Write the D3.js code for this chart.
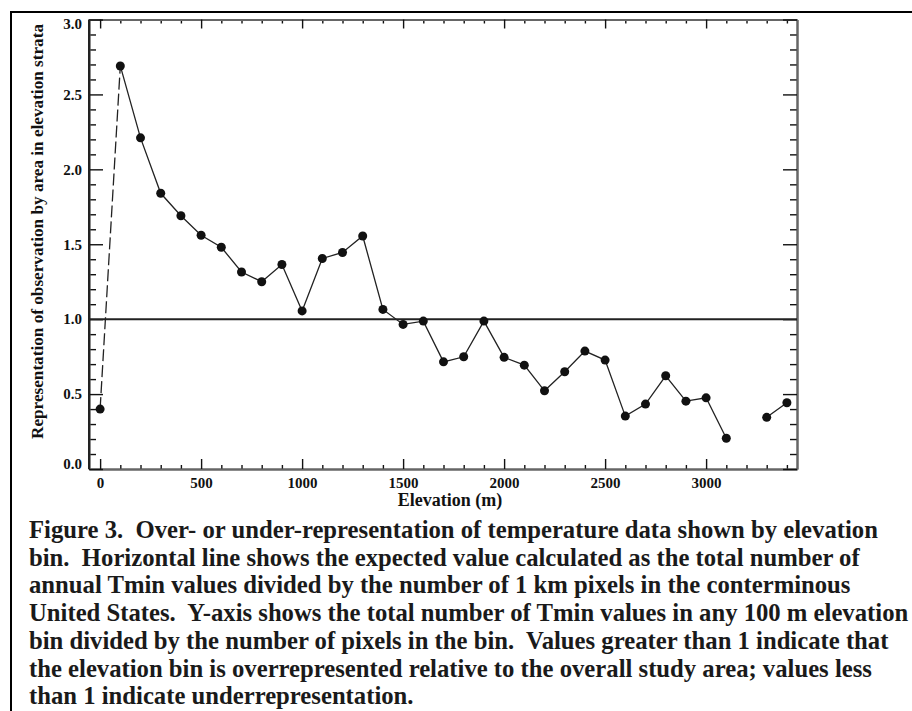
<!DOCTYPE html>
<html>
<head>
<meta charset="utf-8">
<script src="https://cdn.jsdelivr.net/npm/d3@7"></script>
<style>
  body { margin: 0; background: #fff; }
  svg { display: block; }
</style>
</head>
<body>
<svg id="chart" width="912" height="711"></svg>
<script>
// Elevation bins (m) and representation ratio; null = no data in that bin
var elevations = [0, 100, 200, 300, 400, 500, 600, 700, 800, 900, 1000, 1100, 1200, 1300, 1400, 1500, 1600,
  1700, 1800, 1900, 2000, 2100, 2200, 2300, 2400, 2500, 2600, 2700, 2800, 2900, 3000, 3100, 3200, 3300, 3400];
var representation = [0.40, 2.69, 2.21, 1.84, 1.69, 1.56, 1.48, 1.315, 1.25, 1.365, 1.055, 1.405, 1.445, 1.555,
  1.065, 0.965, 0.987, 0.715, 0.749, 0.987, 0.745, 0.693, 0.522, 0.649, 0.787, 0.727, 0.353, 0.433, 0.622,
  0.453, 0.475, 0.205, null, 0.345, 0.442];
var expectedValue = 1.0;

var xMajorTicks = [0, 500, 1000, 1500, 2000, 2500, 3000];
var xMinorTicks = [100, 200, 300, 400, 600, 700, 800, 900, 1100, 1200, 1300, 1400, 1600, 1700, 1800, 1900,
  2100, 2200, 2300, 2400, 2600, 2700, 2800, 2900, 3100, 3200, 3300, 3400];
var yMajorTicks = [0, 0.5, 1.0, 1.5, 2.0, 2.5, 3.0];
var yMinorTicks = [0.1, 0.2, 0.3, 0.4, 0.6, 0.7, 0.8, 0.9, 1.1, 1.2, 1.3, 1.4, 1.6, 1.7, 1.8, 1.9,
  2.1, 2.2, 2.3, 2.4, 2.6, 2.7, 2.8, 2.9];

var xLabel = 'Elevation (m)';
var yLabel = 'Representation of observation by area in elevation strata';
var captionLines = [
  'Figure 3.  Over- or under-representation of temperature data shown by elevation',
  'bin.  Horizontal line shows the expected value calculated as the total number of',
  'annual Tmin values divided by the number of 1 km pixels in the conterminous',
  'United States.  Y-axis shows the total number of Tmin values in any 100 m elevation',
  'bin divided by the number of pixels in the bin.  Values greater than 1 indicate that',
  'the elevation bin is overrepresented relative to the overall study area; values less',
  'than 1 indicate underrepresentation.'
];

var config = {
  plotLeft: 89,
  plotRight: 797,
  plotTop: 19.5,
  plotBottom: 469,
  font: '"Liberation Serif", "Times New Roman", serif',
  axisColor: '#666',
  markColor: '#111',
  pointRadius: 4.5,
  tickFontSize: 15,
  captionX: 29,
  captionFirstBaseline: 538,
  captionLineHeight: 27.7,
  captionFontSize: 24.7
};

var svg = d3.select('#chart');

// Outer frame (top and left edges only are visible)
svg.append('path')
  .attr('d', 'M11,711 L11,12 L912,12')
  .attr('fill', 'none')
  .attr('stroke', '#000')
  .attr('stroke-width', 2);

var x = d3.scaleLinear()
  .domain([-55, 3450])
  .range([config.plotLeft, config.plotRight]);

var y = d3.scaleLinear()
  .domain([0, 3])
  .range([config.plotBottom, config.plotTop]);

// Axes: ticks point inward, labels only on left and bottom
function styleAxis(g) {
  g.select('.domain').attr('stroke', config.axisColor).attr('stroke-width', 2);
  g.selectAll('.tick line').attr('stroke', '#111').attr('stroke-width', 1.4);
  g.selectAll('.tick text')
    .attr('font-family', config.font)
    .attr('font-weight', 'bold')
    .attr('font-size', config.tickFontSize)
    .attr('fill', '#111');
}

svg.append('g')
  .attr('transform', 'translate(0,' + config.plotBottom + ')')
  .call(d3.axisBottom(x).tickValues(xMinorTicks).tickSize(-4).tickSizeOuter(0).tickFormat(''))
  .call(styleAxis);
svg.append('g')
  .attr('transform', 'translate(0,' + config.plotBottom + ')')
  .call(d3.axisBottom(x).tickValues(xMajorTicks).tickSize(-10).tickSizeOuter(0).tickPadding(8).tickFormat(d3.format('d')))
  .call(styleAxis);

svg.append('g')
  .attr('transform', 'translate(0,' + config.plotTop + ')')
  .call(d3.axisTop(x).tickValues(xMinorTicks).tickSize(-4).tickSizeOuter(0).tickFormat(''))
  .call(styleAxis);
svg.append('g')
  .attr('transform', 'translate(0,' + config.plotTop + ')')
  .call(d3.axisTop(x).tickValues(xMajorTicks).tickSize(-9).tickSizeOuter(0).tickFormat(''))
  .call(styleAxis);

svg.append('g')
  .attr('transform', 'translate(' + config.plotLeft + ',0)')
  .call(d3.axisLeft(y).tickValues(yMinorTicks).tickSize(-7).tickSizeOuter(0).tickFormat(''))
  .call(styleAxis);
var yAxisG = svg.append('g')
  .attr('transform', 'translate(' + config.plotLeft + ',0)')
  .call(d3.axisLeft(y).tickValues(yMajorTicks).tickSize(-14).tickSizeOuter(0).tickPadding(7).tickFormat(d3.format('.1f')))
  .call(styleAxis);
// end labels sit just inside the plot range, as in the original
yAxisG.selectAll('.tick text')
  .attr('dy', function(d) { return d === 3 ? '0.62em' : (d === 0 ? '-0.05em' : '0.32em'); });

svg.append('g')
  .attr('transform', 'translate(' + config.plotRight + ',0)')
  .call(d3.axisRight(y).tickValues(yMinorTicks).tickSize(-7).tickSizeOuter(0).tickFormat(''))
  .call(styleAxis);
svg.append('g')
  .attr('transform', 'translate(' + config.plotRight + ',0)')
  .call(d3.axisRight(y).tickValues(yMajorTicks).tickSize(-14).tickSizeOuter(0).tickFormat(''))
  .call(styleAxis);

// Left axis is drawn darker than the others
svg.append('line')
  .attr('x1', config.plotLeft).attr('x2', config.plotLeft)
  .attr('y1', config.plotTop).attr('y2', config.plotBottom)
  .attr('stroke', '#222').attr('stroke-width', 2);

// Axis titles
svg.append('text')
  .attr('x', 450)
  .attr('y', 506)
  .attr('text-anchor', 'middle')
  .attr('font-family', config.font)
  .attr('font-weight', 'bold')
  .attr('font-size', 18)
  .attr('fill', '#111')
  .text(xLabel);

svg.append('text')
  .attr('transform', 'translate(43,' + 231.5 + ') rotate(-90)')
  .attr('text-anchor', 'middle')
  .attr('font-family', config.font)
  .attr('font-weight', 'bold')
  .attr('font-size', 16)
  .attr('textLength', 415)
  .attr('lengthAdjust', 'spacingAndGlyphs')
  .attr('fill', '#111')
  .text(yLabel);

// Expected value line
svg.append('line')
  .attr('x1', config.plotLeft).attr('x2', config.plotRight)
  .attr('y1', y(expectedValue)).attr('y2', y(expectedValue))
  .attr('stroke', '#222')
  .attr('stroke-width', 2);

var points = elevations.map(function(e, i) { return [e, representation[i]]; });

var line = d3.line()
  .defined(function(d) { return d[1] !== null; })
  .x(function(d) { return x(d[0]); })
  .y(function(d) { return y(d[1]); });

// First segment (0 -> 100 m) is dashed, the rest solid
svg.append('path')
  .attr('d', line(points.slice(0, 2)))
  .attr('fill', 'none')
  .attr('stroke', '#222')
  .attr('stroke-width', 1.3)
  .attr('stroke-dasharray', '12,4');

svg.append('path')
  .attr('d', line(points.slice(1)))
  .attr('fill', 'none')
  .attr('stroke', '#222')
  .attr('stroke-width', 1.3);

svg.selectAll('circle.pt')
  .data(points.filter(function(d) { return d[1] !== null; }))
  .enter().append('circle')
  .attr('class', 'pt')
  .attr('cx', function(d) { return x(d[0]); })
  .attr('cy', function(d) { return y(d[1]); })
  .attr('r', config.pointRadius)
  .attr('fill', config.markColor);

// Caption
svg.selectAll('text.caption')
  .data(captionLines)
  .enter().append('text')
  .attr('class', 'caption')
  .attr('x', config.captionX)
  .attr('y', function(d, i) { return config.captionFirstBaseline + i * config.captionLineHeight; })
  .attr('font-family', config.font)
  .attr('font-weight', 'bold')
  .attr('font-size', config.captionFontSize)
  .attr('fill', '#1a1a1a')
  .style('white-space', 'pre')
  .text(function(d) { return d; });
</script>
</body>
</html>
